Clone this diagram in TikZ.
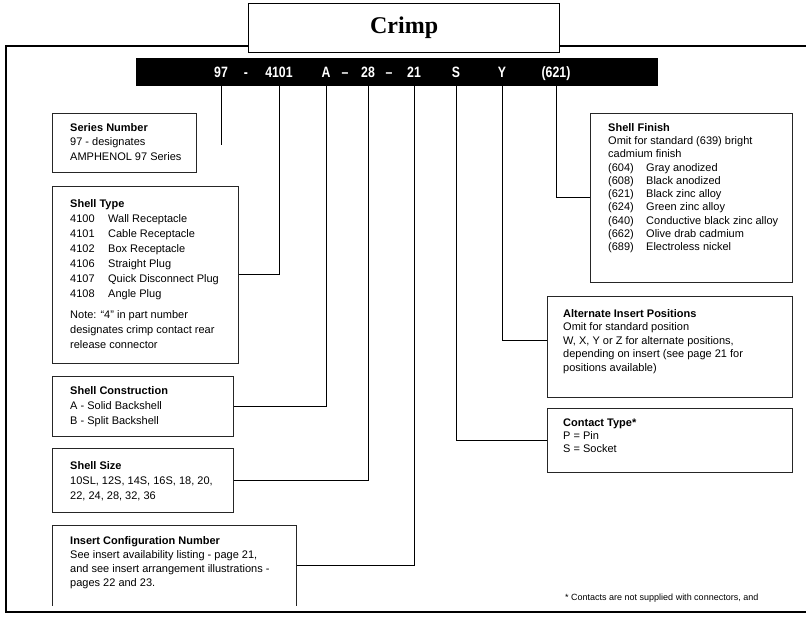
\documentclass[tikz,border=0pt]{standalone}
\usepackage{fontspec}
\setmainfont{Liberation Serif}
\setsansfont{Liberation Sans}
\usetikzlibrary{positioning}
\usetikzlibrary{calc}

\begin{document}
\begin{tikzpicture}[x=1pt,y=-1pt]
% définition des paramètres
\tikzstyle cadre=[color=black,line width=1.1pt]
\tikzstyle titre=[draw=black,line width=1.3pt,fill=white,inner sep=0pt,font=\bfseries\fontsize{24}{24}\selectfont]
\tikzstyle barre=[fill=black,inner sep=0pt]
\tikzstyle code=[text=white,inner sep=0pt,anchor=base,transform shape,xscale=0.82,font=\sffamily\bfseries\fontsize{15}{15}\selectfont]
\tikzstyle boite=[draw=black!85,line width=0.8pt,inner sep=0pt,anchor=north west]
\tikzstyle bord=[draw=black!85,line width=0.8pt]
\tikzstyle texte=[inner sep=0pt,anchor=north west,align=left,font=\sffamily\fontsize{11}{15}\selectfont]
\tikzstyle lien=[color=black,line width=0.8pt]
\tikzstyle note=[inner sep=0pt,anchor=west,font=\sffamily\fontsize{9}{11}\selectfont]
\newcommand{\ligneref}[2]{\makebox[38pt][l]{#1}#2}
\useasboundingbox (0,0) rectangle (806,617);
% le cadre
\draw [cadre] (806,46) -- (6,46) -- (6,612) -- (806,612);
\node [titre,minimum width=311,minimum height=49,anchor=north west] (titre) at (248,3) {Crimp};
% la référence
\node [barre,minimum width=522,minimum height=28,anchor=north west] (barre) at (136,58) {};
\foreach \x/\t/\n in {221/97/p97, 246/-/ptiret, 279/4101/p4101, 326/A/pA, 345/--/ptiretA,
    368/28/p28, 389/--/ptiretB, 414/21/p21, 456/S/pS, 502/Y/pY, 556/{(621)}/p621}
    \node [code] (\n) at (\x,77.5) {\t};
% les boîtes de gauche
\node [boite,minimum width=144,minimum height=59] (series) at (52,113) {};
\node [texte,font=\sffamily\fontsize{11}{14.5}\selectfont] (seriestxt) at ($(series.north west)+(18,10)$)
    {\textbf{Series Number}\\97 - designates\\AMPHENOL 97 Series};
\node [boite,minimum width=186,minimum height=177] (shelltype) at (52,186) {};
\node [texte] (shelltypetxt) at ($(shelltype.north west)+(18,13)$)
    {\textbf{Shell Type}\\\ligneref{4100}{Wall Receptacle}\\\ligneref{4101}{Cable Receptacle}\\
     \ligneref{4102}{Box Receptacle}\\\ligneref{4106}{Straight Plug}\\
     \ligneref{4107}{Quick Disconnect Plug}\\\ligneref{4108}{Angle Plug}\\[6pt]
     Note: “4” in part number\\designates crimp contact rear\\release connector};
\node [boite,minimum width=181,minimum height=60] (construction) at (52,376) {};
\node [texte] (constructiontxt) at ($(construction.north west)+(18,10)$)
    {\textbf{Shell Construction}\\A - Solid Backshell\\B - Split Backshell};
\node [boite,minimum width=181,minimum height=64] (size) at (52,448) {};
\node [texte] (sizetxt) at ($(size.north west)+(18,13)$)
    {\textbf{Shell Size}\\10SL, 12S, 14S, 16S, 18, 20,\\22, 24, 28, 32, 36};
\node [boite,draw=none,minimum width=244,minimum height=80] (insert) at (52,525) {};
\draw [bord] (insert.south west) -- (insert.north west) -- (insert.north east) -- (insert.south east);
\node [texte,font=\sffamily\fontsize{11}{14}\selectfont] (inserttxt) at ($(insert.north west)+(18,11)$)
    {\textbf{Insert Configuration Number}\\See insert availability listing - page 21,\\
     and see insert arrangement illustrations -\\pages 22 and 23.};
% les boîtes de droite
\node [boite,minimum width=202,minimum height=169] (finish) at (590,113) {};
\node [texte,font=\sffamily\fontsize{11}{13.3}\selectfont] (finishtxt) at ($(finish.north west)+(18,10)$)
    {\textbf{Shell Finish}\\Omit for standard (639) bright\\cadmium finish\\
     \ligneref{(604)}{Gray anodized}\\\ligneref{(608)}{Black anodized}\\
     \ligneref{(621)}{Black zinc alloy}\\\ligneref{(624)}{Green zinc alloy}\\
     \ligneref{(640)}{Conductive black zinc alloy}\\\ligneref{(662)}{Olive drab cadmium}\\
     \ligneref{(689)}{Electroless nickel}};
\node [boite,minimum width=245,minimum height=101] (alternate) at (547,296) {};
\node [texte,font=\sffamily\fontsize{11}{13.5}\selectfont] (alternatetxt) at ($(alternate.north west)+(16,13)$)
    {\textbf{Alternate Insert Positions}\\Omit for standard position\\
     W, X, Y or Z for alternate positions,\\depending on insert (see page 21 for\\positions available)};
\node [boite,minimum width=245,minimum height=64] (contact) at (547,408) {};
\node [texte,font=\sffamily\fontsize{11}{13}\selectfont] (contacttxt) at ($(contact.north west)+(16,11)$)
    {\textbf{Contact Type*}\\P = Pin\\S = Socket};
\node [note] (renvoi) at (565,598) {* Contacts are not supplied with connectors, and};
% les liens
\coordinate (fin97) at (221,145);
\draw [lien] (p97 |- barre.south) -- (fin97);
\draw [lien] (p4101 |- barre.south) |- (shelltype.east);
\draw [lien] (pA |- barre.south) |- (construction.east);
\draw [lien] (p28 |- barre.south) |- (size.east);
\draw [lien] (p21 |- barre.south) |- (insert.east);
\draw [lien] (pS |- barre.south) |- (contact.west);
\draw [lien] (pY |- barre.south) |- ($(alternate.north west)+(0,44)$);
\draw [lien] (p621 |- barre.south) |- (finish.west);
\end{tikzpicture}
\end{document}
